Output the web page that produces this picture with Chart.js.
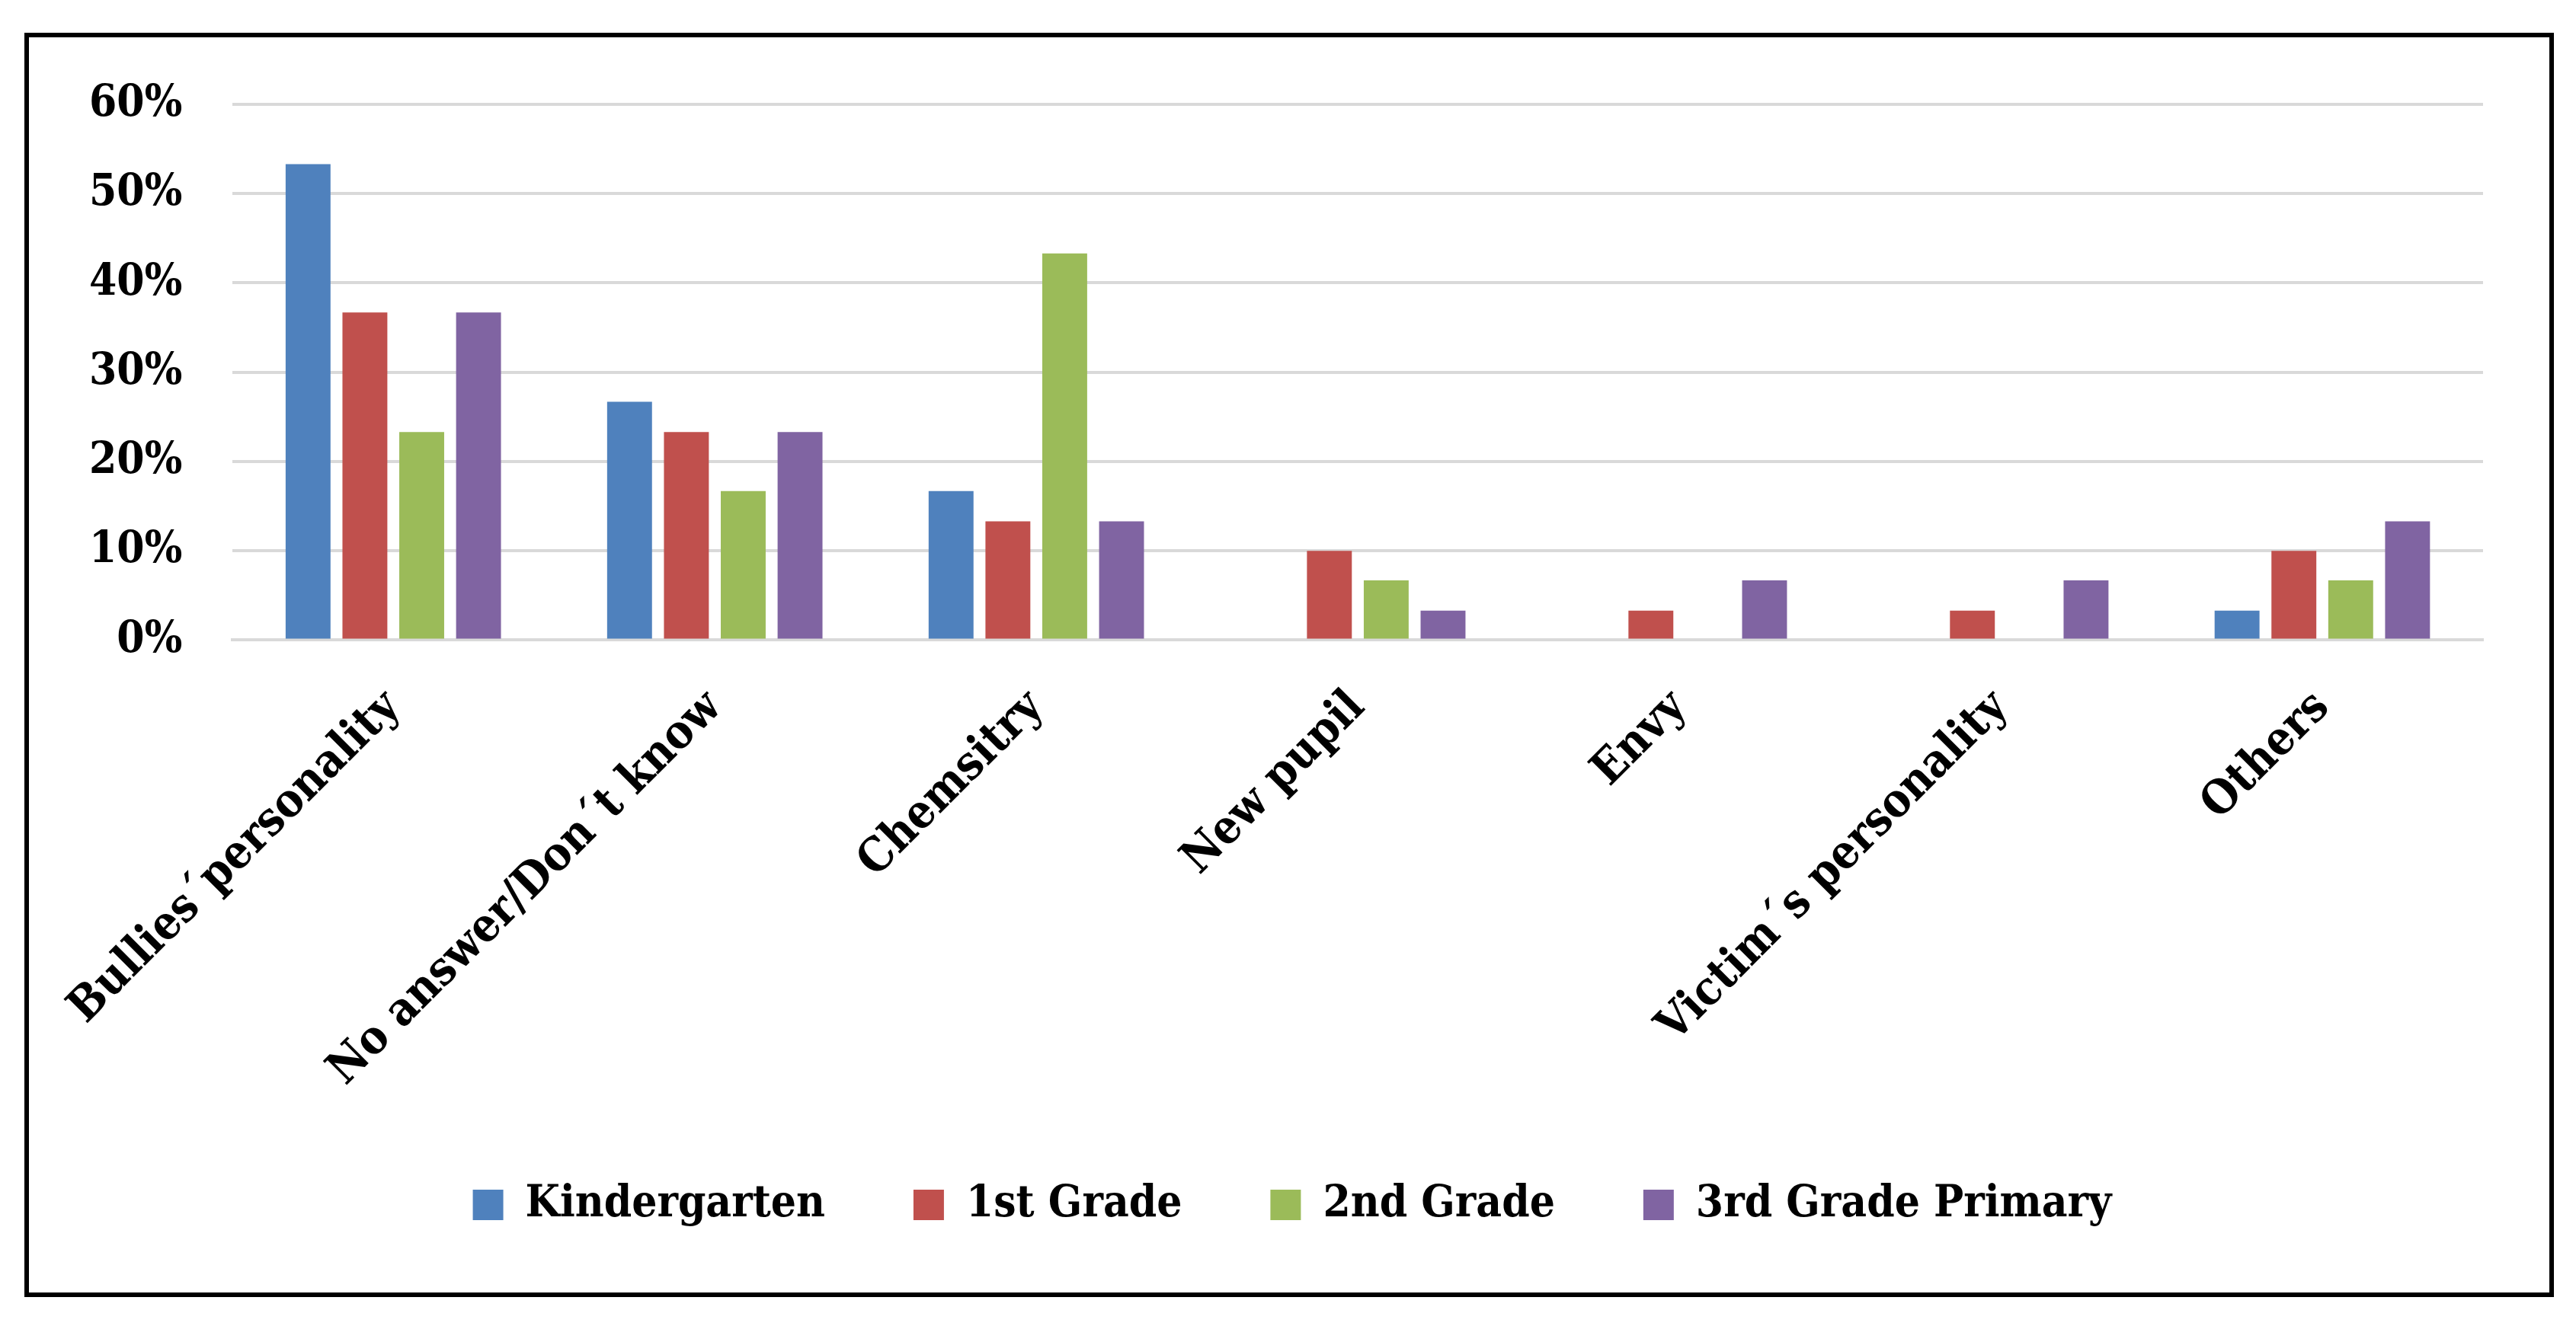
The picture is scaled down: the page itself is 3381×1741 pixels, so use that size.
<!DOCTYPE html>
<html>
<head>
<meta charset="utf-8">
<script src="https://cdn.jsdelivr.net/npm/chart.js@4/dist/chart.umd.min.js"></script>
<style>
  html, body { margin: 0; padding: 0; background: #fff; }
  #frame {
    position: absolute; left: 32px; top: 43px;
    width: 3320px; height: 1660px;
    border: 6px solid #000; box-sizing: border-box; background: #fff;
  }
  #chart { display: block; }
</style>
</head>
<body>
<div id="frame"><canvas id="chart" width="3308" height="1648"></canvas></div>
<script>
// Datos (porcentajes)
const categories = ["Bullies´personality", "No answer/Don´t know", "Chemsitry", "New pupil", "Envy", "Victim´s personality", "Others"];
const seriesNames = ["Kindergarten", "1st Grade", "2nd Grade", "3rd Grade Primary"];
const kindergarten = [53.3, 26.7, 16.7, 0, 0, 0, 3.3];
const grade1 = [36.7, 23.3, 13.3, 10, 3.3, 3.3, 10];
const grade2 = [23.3, 16.7, 43.3, 6.7, 0, 0, 6.7];
const grade3 = [36.7, 23.3, 13.3, 3.3, 6.7, 6.7, 13.3];
const yTicks = [0, 10, 20, 30, 40, 50, 60];

const colors = ["#4F81BD", "#C0504D", "#9BBB59", "#8064A2"];
const fontFamily = "'DejaVu Serif Condensed', 'DejaVu Serif', serif";

const allSeries = [kindergarten, grade1, grade2, grade3];

// Sube un poco la leyenda después del layout (sin cambiar el área del gráfico)
const legendShift = {
    id: "legendShift",
    afterLayout(chart, args, opts) {
        const legend = chart.legend;
        legend.top -= opts.dy;
        legend.bottom -= opts.dy;
    }
};

const chart = new Chart(document.getElementById("chart"), {
    type: "bar",
    data: {
        labels: categories,
        datasets: allSeries.map((values, i) => ({
            label: seriesNames[i],
            data: values,
            backgroundColor: colors[i],
            borderWidth: 0,
            categoryPercentage: 0.707,
            barPercentage: 0.79
        }))
    },
    options: {
        responsive: false,
        animation: false,
        devicePixelRatio: 1,
        layout: {
            padding: { left: 8, right: 0, top: 88, bottom: 27 }
        },
        scales: {
            x: {
                grid: { display: false },
                border: { color: "#D9D9D9", width: 4 },
                ticks: {
                    color: "#000",
                    font: { family: fontFamily, size: 61, weight: "bold" },
                    minRotation: 45,
                    maxRotation: 45,
                    padding: 45,
                    autoSkip: false
                }
            },
            y: {
                min: 0,
                max: 60,
                grid: { color: "#D9D9D9", lineWidth: 4, drawTicks: false },
                border: { display: false },
                afterBuildTicks: axis => { axis.ticks = yTicks.map(v => ({ value: v })); },
                // el padding de las etiquetas no debe empujar el borde superior
                afterFit: axis => { axis.paddingTop = 0; },
                ticks: {
                    color: "#000",
                    font: { family: fontFamily, size: 58, weight: "bold" },
                    padding: 66,
                    callback: v => v + "%"
                }
            },
            // eje vacío a la derecha, solo para dejar margen
            yRight: {
                position: "right",
                grid: { display: false },
                border: { display: false },
                ticks: { display: false },
                afterFit: axis => { axis.width = 87; }
            }
        },
        plugins: {
            legend: {
                position: "bottom",
                labels: {
                    color: "#000",
                    font: { family: fontFamily, size: 58, weight: "bold" },
                    boxWidth: 40,
                    boxHeight: 40,
                    padding: 116
                }
            },
            legendShift: { dy: 49 },
            tooltip: { enabled: false }
        }
    },
    plugins: [legendShift]
});
</script>
</body>
</html>
